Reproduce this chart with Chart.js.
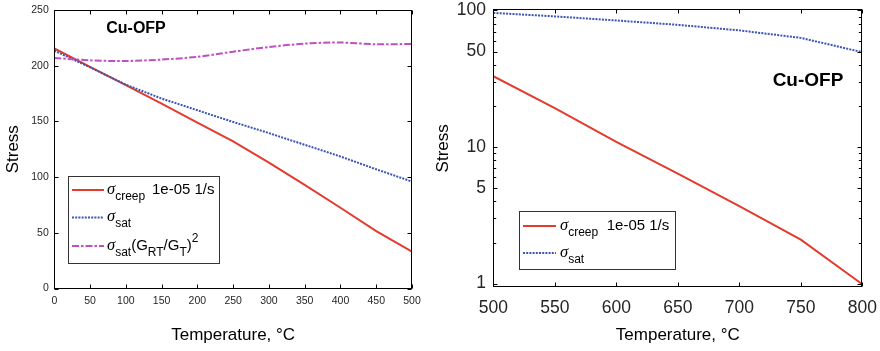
<!DOCTYPE html>
<html><head><meta charset="utf-8">
<script src="https://cdn.jsdelivr.net/npm/chart.js@4/dist/chart.umd.min.js"></script>
<style>
html,body{margin:0;padding:0;background:#fff;width:880px;height:351px;overflow:hidden}
#c1{position:absolute;left:0;top:0}
#c2{position:absolute;left:420px;top:0}
</style></head><body>
<canvas id="c1" width="440" height="351"></canvas>
<canvas id="c2" width="460" height="351"></canvas>
<script>
// ---- data (left panel, linear) ----
const tempsLow = [0,50,100,150,200,250,300,350,400,450,500];
const creepLow = [215.5,199,182.5,166,149,132,113,93,72.5,51.5,33];
const satLow = [213.5,198.5,183,170.5,160,149.5,139.5,129,118.5,107,96];
const satShearLow = [207,204.8,204.2,205.5,208,212.6,216.8,219.8,220.8,219.2,219.5];
const xTicksLow = [0,50,100,150,200,250,300,350,400,450,500];
const yTicksLow = [0,50,100,150,200,250];
// ---- data (right panel, log) ----
const tempsHigh = [500,550,600,650,700,750,800];
const creepHigh = [33,19.3,10.9,6.4,3.7,2.1,0.99];
const satHigh = [96,90.5,84.5,78.5,71.5,63,49.5];
const xTicksHigh = [500,550,600,650,700,750,800];
const yTicksHigh = [1,5,10,50,100];
const yMinorHigh = [2,3,4,6,7,8,9,20,30,40,60,70,80,90];

const RED='#e33b2e', BLUE='#3c55b5', MAG='#c04fc0';
const DOT=[2,1.2], DASHDOT=[7,2,2.5,2];
const FONT='"Liberation Sans", Arial, sans-serif';
const AXC='#262626';

const pts=(xs,ys)=>xs.map((x,i)=>({x:x,y:ys[i]}));

const framePlugin={id:'frame',afterDraw(chart,args,o){
  const ctx=chart.ctx,a=chart.chartArea,sx=chart.scales.x,sy=chart.scales.y;
  ctx.save();ctx.strokeStyle='#000';ctx.lineWidth=1;
  const L=Math.round(a.left)+0.5,R=Math.round(a.right)-0.5,T=Math.round(a.top)+0.5,B=Math.round(a.bottom)-0.5;
  ctx.strokeRect(L,T,R-L,B-T);
  ctx.beginPath();
  for(const v of o.xt){const p=Math.round(sx.getPixelForValue(v))+0.5;ctx.moveTo(p,B);ctx.lineTo(p,B-o.len);ctx.moveTo(p,T);ctx.lineTo(p,T+o.len);}
  for(const v of o.yt){const p=Math.round(sy.getPixelForValue(v))+0.5;ctx.moveTo(L,p);ctx.lineTo(L+o.len,p);ctx.moveTo(R,p);ctx.lineTo(R-o.len,p);}
  for(const v of (o.ym||[])){const p=Math.round(sy.getPixelForValue(v))+0.5;ctx.moveTo(L,p);ctx.lineTo(L+o.mlen,p);ctx.moveTo(R,p);ctx.lineTo(R-o.mlen,p);}
  ctx.stroke();ctx.restore();
}};

function drawRich(ctx,x,y,segs,base){
  for(const s of segs){
    let size=base,dy=0,fam=FONT,style='';
    if(s.k==='sub'){size=base*0.8;dy=base*0.42;}
    if(s.k==='sup'){size=base*0.8;dy=-base*0.5;}
    if(s.k==='sig'){fam='"Liberation Serif", serif';style='italic ';size=base*1.1;}
    ctx.font=style+size+'px '+fam;
    ctx.fillText(s.t,x,y+dy);
    x+=ctx.measureText(s.t).width+(s.gap||0);
  }
}

const legendPlugin={id:'richLegend',afterDraw(chart,args,o){
  const ctx=chart.ctx;ctx.save();
  ctx.fillStyle='#fff';ctx.fillRect(o.box[0],o.box[1],o.box[2],o.box[3]);
  ctx.strokeStyle='#333';ctx.lineWidth=1;
  ctx.strokeRect(Math.round(o.box[0])+0.5,Math.round(o.box[1])+0.5,Math.round(o.box[2]),Math.round(o.box[3]));
  o.items.forEach((it,i)=>{
    const ds=chart.data.datasets[it.ds];const y=o.rows[i];
    ctx.strokeStyle=ds.borderColor;ctx.lineWidth=2;ctx.setLineDash(ds.borderDash||[]);
    ctx.beginPath();ctx.moveTo(o.lx[0],y);ctx.lineTo(o.lx[1],y);ctx.stroke();ctx.setLineDash([]);
    ctx.fillStyle='#000';ctx.textBaseline='alphabetic';ctx.textAlign='left';
    drawRich(ctx,o.tx,y+3.5,it.segs,15);
    if(it.extra){ctx.font='15px '+FONT;ctx.fillText(it.extra,o.tx+o.ex,y+3.5);}
  });
  ctx.font='bold '+o.tsize+'px '+FONT;ctx.fillStyle='#000';ctx.textAlign='center';ctx.textBaseline='middle';
  ctx.fillText(o.title,o.tpos[0],o.tpos[1]);
  ctx.restore();
}};

function fixX(h){return s=>{s.height=h;s.paddingLeft=0;s.paddingRight=0;s.paddingTop=0;s.paddingBottom=0;};}
function fixY(w){return s=>{s.width=w;s.paddingLeft=0;s.paddingRight=0;s.paddingTop=0;s.paddingBottom=0;};}
function setTicks(arr){return s=>{s.ticks=arr.map(v=>({value:v}));};}

const creepSegs=[{t:'σ',k:'sig'},{t:'creep',k:'sub'}];
const satSegs=[{t:'σ',k:'sig'},{t:'sat',k:'sub'}];
const shearSegs=[{t:'σ',k:'sig'},{t:'sat',k:'sub'},{t:'(G'},{t:'RT',k:'sub'},{t:'/G'},{t:'T',k:'sub'},{t:')'},{t:'2',k:'sup'}];

new Chart(document.getElementById('c1'),{
  type:'line',
  data:{datasets:[
    {label:'creep',data:pts(tempsLow,creepLow),borderColor:RED,borderWidth:2,pointRadius:0,tension:0,order:3},
    {label:'sat',data:pts(tempsLow,satLow),borderColor:BLUE,borderWidth:2,borderDash:DOT,pointRadius:0,tension:0,order:2},
    {label:'satG',data:pts(tempsLow,satShearLow),borderColor:MAG,borderWidth:2,borderDash:DASHDOT,pointRadius:0,tension:0.3,order:1}
  ]},
  options:{responsive:false,animation:false,
    layout:{padding:{top:10,right:28,left:0,bottom:0}},
    plugins:{legend:{display:false},tooltip:{enabled:false},
      frame:{xt:xTicksLow,yt:yTicksLow,len:4},
      richLegend:{box:[68,176,151,87],lx:[72,104],tx:107,ex:45,rows:[190,217.5,246],
        items:[{ds:0,segs:creepSegs,extra:'1e-05 1/s'},{ds:1,segs:satSegs},{ds:2,segs:shearSegs}],
        title:'Cu-OFP',tsize:16,tpos:[136,29]}},
    scales:{
      x:{type:'linear',min:0,max:500,afterBuildTicks:setTicks(xTicksLow),afterFit:fixX(62.5),
        grid:{display:false,drawTicks:false},border:{display:false},
        ticks:{font:{family:FONT,size:10.5},color:AXC,padding:6,maxRotation:0,autoSkip:false},
        title:{display:true,text:'Temperature, °C',font:{family:FONT,size:17},color:'#000',padding:{top:0,bottom:5}}},
      y:{type:'linear',min:0,max:250,afterBuildTicks:setTicks(yTicksLow),afterFit:fixY(54.3),
        grid:{display:false,drawTicks:false},border:{display:false},
        ticks:{font:{family:FONT,size:10.5},color:AXC,padding:5.5,autoSkip:false},
        title:{display:true,text:'Stress',font:{family:FONT,size:17},color:'#000',padding:{top:3,bottom:0}}}
    }},
  plugins:[framePlugin,legendPlugin]
});

new Chart(document.getElementById('c2'),{
  type:'line',
  data:{datasets:[
    {label:'creep',data:pts(tempsHigh,creepHigh),borderColor:RED,borderWidth:2,pointRadius:0,tension:0,order:2},
    {label:'sat',data:pts(tempsHigh,satHigh),borderColor:BLUE,borderWidth:2,borderDash:DOT,pointRadius:0,tension:0,order:1}
  ]},
  options:{responsive:false,animation:false,
    layout:{padding:{top:9.3,right:17.7,left:0,bottom:0}},
    plugins:{legend:{display:false},tooltip:{enabled:false},
      frame:{xt:xTicksHigh,yt:yTicksHigh,ym:yMinorHigh,len:4,mlen:2.7},
      richLegend:{box:[99.3,210.7,156.4,58],lx:[103,136],tx:140,ex:46.7,rows:[226,253],
        items:[{ds:0,segs:creepSegs,extra:'1e-05 1/s'},{ds:1,segs:satSegs}],
        title:'Cu-OFP',tsize:19,tpos:[388,81]}},
    scales:{
      x:{type:'linear',min:500,max:800,afterBuildTicks:setTicks(xTicksHigh),afterFit:fixX(63.7),
        grid:{display:false,drawTicks:false},border:{display:false},
        ticks:{font:{family:FONT,size:17.5},color:AXC,padding:10,maxRotation:0,autoSkip:false},
        title:{display:true,text:'Temperature, °C',font:{family:FONT,size:17},color:'#000',padding:{top:0,bottom:5}}},
      y:{type:'logarithmic',min:0.94,max:102,afterBuildTicks:setTicks(yTicksHigh),afterFit:fixY(73.3),
        grid:{display:false,drawTicks:false},border:{display:false},
        ticks:{font:{family:FONT,size:17.5},color:AXC,padding:7.3,autoSkip:false,callback:v=>String(v)},
        title:{display:true,text:'Stress',font:{family:FONT,size:17},color:'#000',padding:{top:12.8,bottom:0}}}
    }},
  plugins:[framePlugin,legendPlugin]
});
</script>
</body></html>
